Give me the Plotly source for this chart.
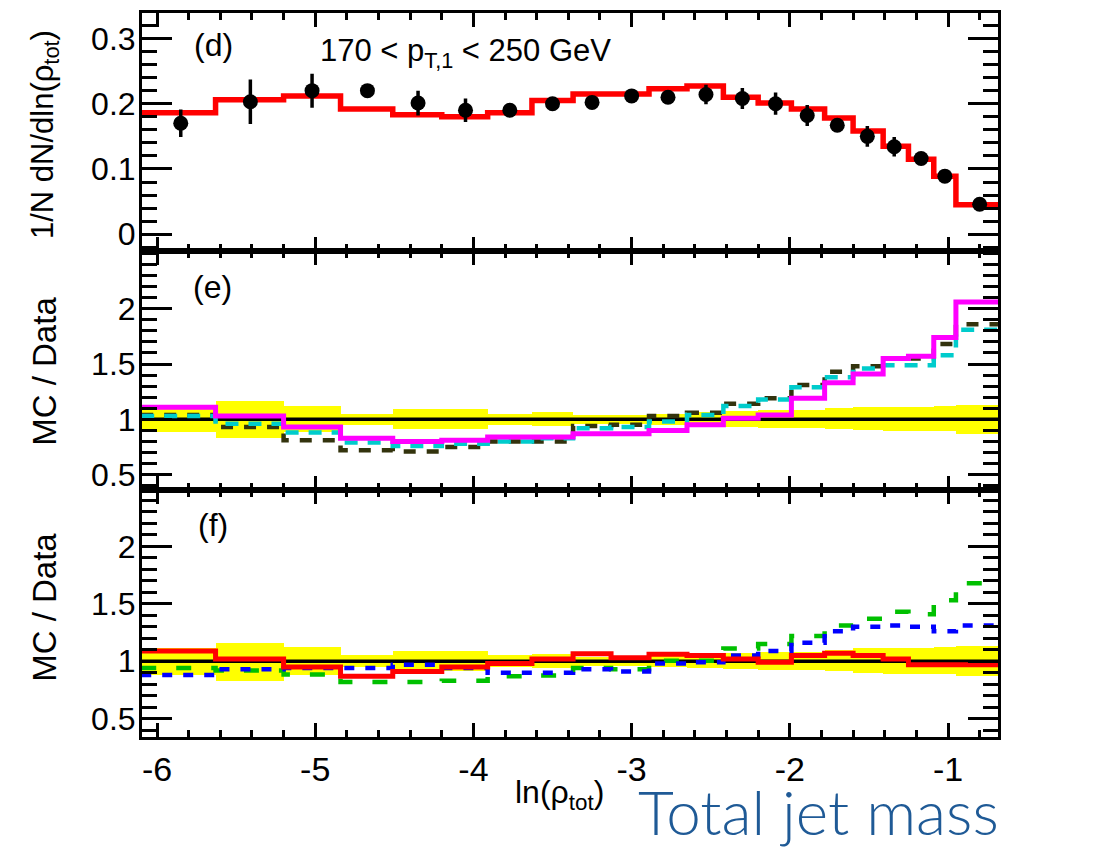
import plotly.graph_objects as go

# ---------------- data ----------------
bin_edges = [-6.1, -5.63, -5.20, -4.84, -4.51, -4.20, -3.91, -3.63, -3.37, -3.13, -2.89,
             -2.65, -2.42, -2.20, -1.99, -1.78, -1.60, -1.41, -1.25, -1.09, -0.95, -0.68]

data_x = [-5.85, -5.41, -5.02, -4.67, -4.35, -4.05, -3.77, -3.50, -3.25, -3.00, -2.77,
          -2.53, -2.30, -2.09, -1.89, -1.70, -1.51, -1.34, -1.17, -1.02, -0.80]
data_y = [0.170, 0.203, 0.220, 0.220, 0.201, 0.190, 0.190, 0.200, 0.202, 0.212, 0.210,
          0.214, 0.208, 0.200, 0.182, 0.167, 0.150, 0.134, 0.116, 0.089, 0.046]
data_err = [0.021, 0.034, 0.026, 0.004, 0.019, 0.018, 0.005, 0.006, 0.005, 0.005, 0.006,
            0.015, 0.016, 0.017, 0.016, 0.006, 0.016, 0.015, 0.006, 0.005, 0.004]

mc_top_red = [0.186, 0.206, 0.212, 0.192, 0.183, 0.180, 0.186, 0.205, 0.215, 0.215, 0.223,
              0.227, 0.210, 0.201, 0.192, 0.178, 0.158, 0.135, 0.115, 0.089, 0.045]

ratio_e_magenta = [1.11, 1.03, 0.93, 0.83, 0.80, 0.81, 0.84, 0.84, 0.87, 0.87, 0.90,
                   0.95, 1.01, 1.04, 1.19, 1.33, 1.41, 1.55, 1.57, 1.74, 2.06]
ratio_e_olive = [1.04, 0.93, 0.81, 0.72, 0.71, 0.75, 0.80, 0.80, 0.94, 0.95, 1.03,
                 1.06, 1.14, 1.19, 1.31, 1.43, 1.48, 1.55, 1.55, 1.68, 1.86]
ratio_e_cyan = [1.03, 0.96, 0.88, 0.79, 0.76, 0.78, 0.80, 0.83, 0.92, 0.93, 0.98,
                1.04, 1.12, 1.18, 1.29, 1.38, 1.46, 1.49, 1.49, 1.58, 1.81]

ratio_f_red = [1.09, 1.02, 0.95, 0.87, 0.91, 0.95, 0.98, 1.02, 1.065, 1.03, 1.06,
               1.05, 1.02, 0.99, 1.05, 1.07, 1.05, 1.02, 0.97, 0.97, 0.97]
ratio_f_green = [0.94, 0.92, 0.885, 0.82, 0.82, 0.83, 0.87, 0.875, 0.94, 0.93, 1.005,
                 1.005, 1.11, 1.15, 1.22, 1.31, 1.37, 1.43, 1.41, 1.53, 1.68]
ratio_f_blue = [0.88, 0.93, 0.94, 0.94, 0.97, 0.94, 0.90, 0.90, 0.93, 0.91, 0.98,
                0.99, 1.05, 1.09, 1.16, 1.26, 1.30, 1.31, 1.30, 1.26, 1.31]

band_hi = [1.11, 1.16, 1.12, 1.05, 1.09, 1.09, 1.05, 1.06, 1.04, 1.04, 1.05,
           1.06, 1.07, 1.08, 1.08, 1.10, 1.11, 1.11, 1.11, 1.12, 1.13]
band_lo = [0.88, 0.83, 0.88, 0.95, 0.91, 0.91, 0.95, 0.94, 0.96, 0.96, 0.95,
           0.94, 0.93, 0.92, 0.92, 0.91, 0.90, 0.89, 0.89, 0.89, 0.87]

x_tick_vals = [-6, -5, -4, -3, -2, -1]
x_tick_text = ["-6", "-5", "-4", "-3", "-2", "-1"]

# ---------------- helpers ----------------
centers = [(a + b) / 2 for a, b in zip(bin_edges[:-1], bin_edges[1:])]
widths = [b - a for a, b in zip(bin_edges[:-1], bin_edges[1:])]
X_RANGE = [-6.095, -0.684]


def step(vals, color, width, dash, xa, ya):
    return go.Scatter(x=bin_edges, y=list(vals) + [vals[-1]], mode="lines",
                      line=dict(shape="hv", color=color, width=width, dash=dash),
                      xaxis=xa, yaxis=ya, showlegend=False, hoverinfo="skip")


def band(xa, ya):
    return go.Bar(x=centers, width=widths, base=band_lo,
                  y=[h - l for h, l in zip(band_hi, band_lo)],
                  marker=dict(color="#ffff00", line=dict(width=0)),
                  xaxis=xa, yaxis=ya, showlegend=False, hoverinfo="skip")


def unity(xa, ya):
    return go.Scatter(x=X_RANGE, y=[1, 1], mode="lines",
                      line=dict(color="black", width=3.5),
                      xaxis=xa, yaxis=ya, showlegend=False, hoverinfo="skip")


fig = go.Figure()

# panel (d)
fig.add_trace(step(mc_top_red, "#ff0000", 5.5, "solid", "x", "y"))
fig.add_trace(go.Scatter(x=data_x, y=data_y, mode="markers",
                         marker=dict(color="black", size=15),
                         error_y=dict(type="data", array=data_err, width=0,
                                      thickness=3.5, color="black"),
                         xaxis="x", yaxis="y", showlegend=False))

# panel (e)
fig.add_trace(band("x2", "y2"))
fig.add_trace(unity("x2", "y2"))
fig.add_trace(step(ratio_e_olive, "#33330d", 4.5, "12px,11px", "x2", "y2"))
fig.add_trace(step(ratio_e_cyan, "#00cccc", 4.5, "13px,10px", "x2", "y2"))
fig.add_trace(step(ratio_e_magenta, "#ff00ff", 5, "solid", "x2", "y2"))

# panel (f)
fig.add_trace(band("x3", "y3"))
fig.add_trace(unity("x3", "y3"))
fig.add_trace(step(ratio_f_green, "#00c000", 4.5, "15px,20px", "x3", "y3"))
fig.add_trace(step(ratio_f_blue, "#0000ff", 4.5, "10px,11px", "x3", "y3"))
fig.add_trace(step(ratio_f_red, "#ff0000", 5, "solid", "x3", "y3"))

FONT = "Liberation Sans, Arial, sans-serif"

xcommon = dict(range=X_RANGE, showgrid=False, zeroline=False, showline=True,
               linecolor="black", linewidth=3, mirror="allticks",
               ticks="inside", ticklen=14, tickwidth=2.5, tickcolor="black",
               tickvals=x_tick_vals, ticktext=x_tick_text,
               minor=dict(ticks="inside", ticklen=7, tickwidth=2.5, tickcolor="black",
                          tick0=-6, dtick=0.2),
               tickfont=dict(size=34, family=FONT, color="black"))
ycommon = dict(showgrid=False, zeroline=False, showline=True,
               linecolor="black", linewidth=3, mirror="allticks",
               ticks="inside", ticklen=30, tickwidth=2.5, tickcolor="black",
               ticklabelstandoff=-3,
               tickfont=dict(size=32, family=FONT, color="black"))

D1, D2 = 0.341, 0.671

fig.update_layout(
    width=1094, height=851,
    margin=dict(l=142, r=96, t=10, b=114),
    paper_bgcolor="white", plot_bgcolor="white",
    font=dict(family=FONT, color="black"),
    barmode="overlay", bargap=0,
    showlegend=False,
    xaxis=dict(xcommon, anchor="y", showticklabels=False),
    xaxis2=dict(xcommon, anchor="y2", matches="x", showticklabels=False),
    xaxis3=dict(xcommon, anchor="y3", matches="x", showticklabels=True),
    yaxis=dict(ycommon, domain=[D2, 1], anchor="x", range=[-0.026, 0.339],
               tickvals=[0, 0.1, 0.2, 0.3],
               minor=dict(ticks="inside", ticklen=15, tickwidth=2.5, tickcolor="black",
                          tick0=0, dtick=0.02)),
    yaxis2=dict(ycommon, domain=[D1, D2], anchor="x2", range=[0.36, 2.52],
                tickvals=[0.5, 1, 1.5, 2],
                minor=dict(ticks="inside", ticklen=15, tickwidth=2.5, tickcolor="black",
                           tick0=0, dtick=0.1)),
    yaxis3=dict(ycommon, domain=[0, D1], anchor="x3", range=[0.34, 2.49],
                tickvals=[0.5, 1, 1.5, 2],
                minor=dict(ticks="inside", ticklen=15, tickwidth=2.5, tickcolor="black",
                           tick0=0, dtick=0.1)),
)

ann = [
    dict(text="(d)", x=0.083, y=0.956),
    dict(text="(e)", x=0.082, y=0.622),
    dict(text="(f)", x=0.083, y=0.293),
]
for a in ann:
    fig.add_annotation(xref="paper", yref="paper", showarrow=False,
                       xanchor="center", yanchor="middle",
                       font=dict(size=32, family=FONT, color="black"), **a)

fig.add_annotation(xref="paper", yref="paper", x=0.2056, y=0.945, showarrow=False,
                   xanchor="left", yanchor="middle",
                   text="170 &lt; p<sub>T,1</sub> &lt; 250 GeV",
                   font=dict(size=31, family=FONT, color="black"))

# axis titles
fig.add_annotation(xref="paper", yref="paper", x=-0.114, y=0.832, showarrow=False,
                   xanchor="center", yanchor="middle", textangle=-90,
                   text="1/N dN/dln(ρ<sub>tot</sub>)",
                   font=dict(size=31, family=FONT, color="black"))
fig.add_annotation(xref="paper", yref="paper", x=-0.114, y=0.505, showarrow=False,
                   xanchor="center", yanchor="middle", textangle=-90,
                   text="MC / Data", font=dict(size=33, family=FONT, color="black"))
fig.add_annotation(xref="paper", yref="paper", x=-0.114, y=0.179, showarrow=False,
                   xanchor="center", yanchor="middle", textangle=-90,
                   text="MC / Data", font=dict(size=33, family=FONT, color="black"))
fig.add_annotation(xref="paper", yref="paper", x=0.488, y=-0.08, showarrow=False,
                   xanchor="center", yanchor="middle",
                   text="ln(ρ<sub>tot</sub>)", font=dict(size=32, family=FONT, color="black"))

fig.add_annotation(xref="paper", yref="paper", x=(818 - 142) / 856, y=(737 - 811) / 727,
                   showarrow=False, xanchor="center", yanchor="middle",
                   text="Total jet mass",
                   font=dict(size=62, family="Lato", weight=300, color="#1f5a96"))

fig.write_html("out.html")
